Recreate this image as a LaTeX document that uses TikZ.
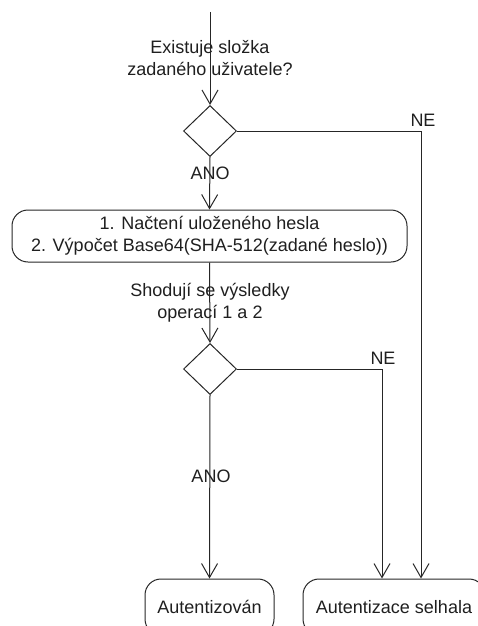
\documentclass[tikz,border=0pt]{standalone}
\usepackage{fontspec}
\setmainfont{Liberation Sans}
\usetikzlibrary{shapes.geometric,arrows.meta}

\tikzset{
    flow/.style={draw=black!85, line width=1pt},
    arr/.style={flow, -{Straight Barb[length=14pt,width=16pt,line width=1pt]}},
    test/.style={flow, diamond, inner sep=0pt, minimum width=53pt, minimum height=51pt},
    activity/.style={flow, rounded corners=16pt, inner sep=0pt, align=center},
    lbl/.style={text=black!88, align=center, inner sep=0pt, font=\fontsize{18}{22}\selectfont}
}

\begin{document}
\begin{tikzpicture}[x=1pt, y=-1pt]
    \useasboundingbox (0,0) rectangle (478,626);
    \clip (0,0) rectangle (478,626);

    % Start and first test
    \coordinate (start) at (210,12);
    \node[test] (exists) at (210,131) {};
    \node[lbl] (existsq) at (210,58) {Existuje složka\\zadaného uživatele?};
    \draw[arr] (start) -- (exists.north);

    % Password check
    \node[activity, minimum width=395pt, minimum height=52pt, lbl] (hash) at (209.5,236)
        {1. Načtení uloženého hesla\\2. Výpočet Base64(SHA-512(zadané heslo))};
    \draw[arr] (exists.south) -- (hash.north);
    \node[lbl] (yes1) at (210,173) {ANO};

    % Second test
    \node[test] (match) at (210,369) {};
    \node[lbl] (matchq) at (210,303) {Shodují se výsledky\\operací 1 a 2};
    \draw[arr] (hash.south) -- (match.north);

    % Results
    \node[activity, minimum width=129pt, minimum height=56pt, lbl] (ok) at (209.5,607) {Autentizován};
    \node[activity, minimum width=182pt, minimum height=56pt, lbl] (fail) at (394,607) {Autentizace selhala};
    \draw[arr] (match.south) -- (ok.north);
    \node[lbl] (yes2) at (211,476) {ANO};

    \draw[arr] (match.east) -| ([xshift=-12pt]fail.north);
    \node[lbl] (no2) at (383,358) {NE};
    \draw[arr] (exists.east) -| ([xshift=27pt]fail.north);
    \node[lbl] (no1) at (423,120) {NE};
\end{tikzpicture}
\end{document}
